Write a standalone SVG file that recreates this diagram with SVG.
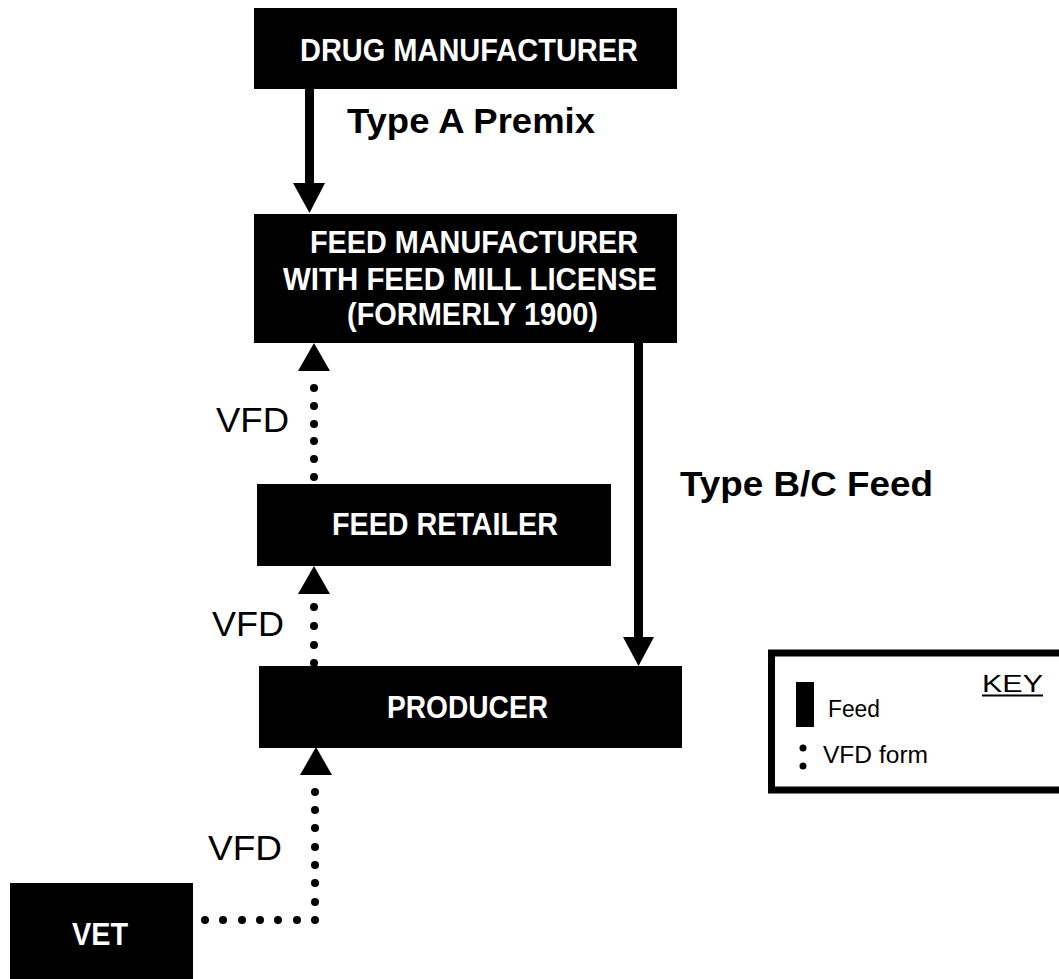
<svg xmlns="http://www.w3.org/2000/svg" width="1059" height="979" viewBox="0 0 1059 979">
<style>
.box{fill:#000}
.bt{fill:#fff;font-family:"Liberation Sans",Arial,sans-serif;font-weight:bold;font-size:31px;text-anchor:middle}
.lbl{fill:#000;font-family:"Liberation Sans",Arial,sans-serif;font-weight:bold;font-size:35px}
.vfd{fill:#000;font-family:"Liberation Sans",Arial,sans-serif;font-size:35px}
.feed{stroke:#000;stroke-width:9;fill:none}
.dot{fill:#000}
.key{fill:#000;font-family:"Liberation Sans",Arial,sans-serif;font-size:23px}
</style>
<rect width="1059" height="979" fill="#fff"/>
<g id="connectors">
  <g id="premix">
    <line class="feed" x1="309.5" y1="88" x2="309.5" y2="186"/>
    <polygon points="293,183 325,183 309.5,213"/>
  </g>
  <g id="bcfeed">
    <line class="feed" x1="638.5" y1="342" x2="638.5" y2="640"/>
    <polygon points="623,637 654,637 638.5,666"/>
  </g>
  <g id="vfd-retailer-fm">
    <polygon points="298,371 330,371 314,343"/>
    <circle class="dot" cx="314" cy="388" r="4"/>
    <circle class="dot" cx="314" cy="406" r="4"/>
    <circle class="dot" cx="314" cy="424" r="4"/>
    <circle class="dot" cx="314" cy="441" r="4"/>
    <circle class="dot" cx="314" cy="459" r="4"/>
    <circle class="dot" cx="314" cy="477" r="4"/>
  </g>
  <g id="vfd-producer-retailer">
    <polygon points="298,594 330,594 314,566"/>
    <circle class="dot" cx="314" cy="607" r="4"/>
    <circle class="dot" cx="314" cy="626" r="4"/>
    <circle class="dot" cx="314" cy="645" r="4"/>
    <circle class="dot" cx="314" cy="663" r="4"/>
  </g>
  <g id="vfd-vet-producer">
    <polygon points="300,775 332,775 316,747"/>
    <circle class="dot" cx="315" cy="792" r="4"/>
    <circle class="dot" cx="315" cy="810" r="4"/>
    <circle class="dot" cx="315" cy="828" r="4"/>
    <circle class="dot" cx="315" cy="847" r="4"/>
    <circle class="dot" cx="315" cy="865" r="4"/>
    <circle class="dot" cx="315" cy="883" r="4"/>
    <circle class="dot" cx="315" cy="902" r="4"/>
    <circle class="dot" cx="315" cy="920" r="4"/>
    <circle class="dot" cx="297" cy="920" r="4"/>
    <circle class="dot" cx="278" cy="920" r="4"/>
    <circle class="dot" cx="260" cy="920" r="4"/>
    <circle class="dot" cx="242" cy="920" r="4"/>
    <circle class="dot" cx="223" cy="920" r="4"/>
    <circle class="dot" cx="205" cy="920" r="4"/>
  </g>
  <text class="lbl" x="347" y="133" textLength="248" lengthAdjust="spacingAndGlyphs">Type A Premix</text>
  <text class="lbl" x="680" y="496" textLength="253" lengthAdjust="spacingAndGlyphs">Type B/C Feed</text>
  <text class="vfd" x="216" y="432" textLength="73" lengthAdjust="spacingAndGlyphs">VFD</text>
  <text class="vfd" x="212" y="636" textLength="72" lengthAdjust="spacingAndGlyphs">VFD</text>
  <text class="vfd" x="208" y="860" textLength="74" lengthAdjust="spacingAndGlyphs">VFD</text>
</g>
<g id="drug-manufacturer">
  <rect class="box" x="254" y="8" width="423" height="81"/>
  <text class="bt" x="469" y="61" textLength="338" lengthAdjust="spacingAndGlyphs">DRUG MANUFACTURER</text>
</g>
<g id="feed-manufacturer">
  <rect class="box" x="254" y="214" width="423" height="129"/>
  <text class="bt" x="474" y="253" textLength="328" lengthAdjust="spacingAndGlyphs">FEED MANUFACTURER</text>
  <text class="bt" x="470" y="290" textLength="374" lengthAdjust="spacingAndGlyphs">WITH FEED MILL LICENSE</text>
  <text class="bt" x="472.5" y="325" textLength="251" lengthAdjust="spacingAndGlyphs">(FORMERLY 1900)</text>
</g>
<g id="feed-retailer">
  <rect class="box" x="257" y="484" width="354" height="82"/>
  <text class="bt" x="445" y="535" textLength="226" lengthAdjust="spacingAndGlyphs">FEED RETAILER</text>
</g>
<g id="producer">
  <rect class="box" x="259" y="666" width="423" height="82"/>
  <text class="bt" x="467.5" y="718" textLength="161" lengthAdjust="spacingAndGlyphs">PRODUCER</text>
</g>
<g id="vet">
  <rect class="box" x="10" y="883" width="183" height="100"/>
  <text class="bt" x="100" y="945" textLength="56" lengthAdjust="spacingAndGlyphs">VET</text>
</g>
<g id="key">
  <rect x="771.5" y="653" width="300" height="137" fill="#fff" stroke="#000" stroke-width="7"/>
  <text class="key" x="982" y="692" font-size="30" textLength="61" lengthAdjust="spacingAndGlyphs">KEY</text>
  <line x1="982" y1="695.5" x2="1043" y2="695.5" stroke="#000" stroke-width="2"/>
  <rect x="796" y="682" width="18" height="45" fill="#000"/>
  <text class="key" x="828" y="717" textLength="52" lengthAdjust="spacingAndGlyphs">Feed</text>
  <circle class="dot" cx="803" cy="748" r="3.5"/>
  <circle class="dot" cx="803" cy="766" r="3.5"/>
  <text class="key" x="823" y="763" textLength="105" lengthAdjust="spacingAndGlyphs">VFD form</text>
</g>
</svg>
